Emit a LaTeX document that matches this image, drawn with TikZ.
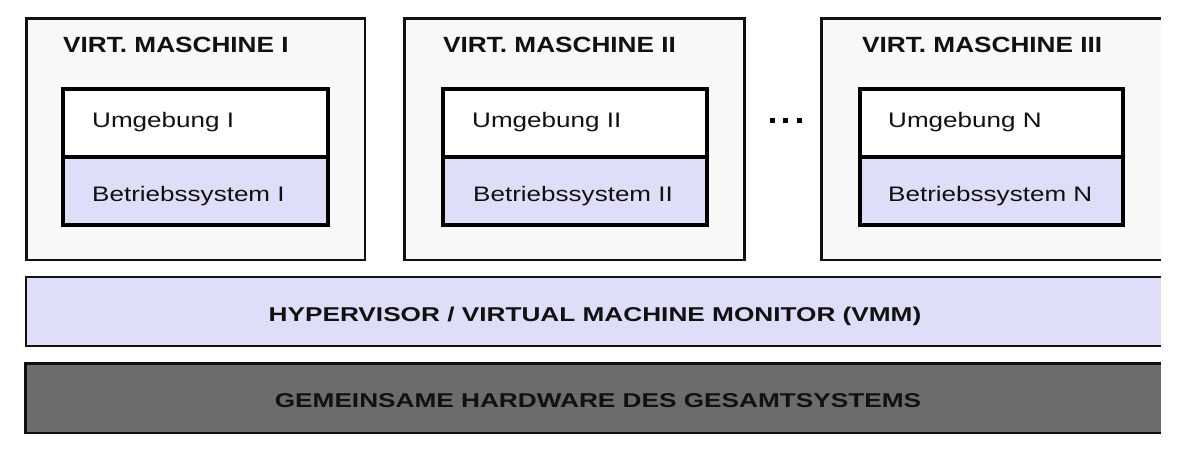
\documentclass[tikz,border=0pt]{standalone}
\usepackage{fontspec}
\setmainfont{Liberation Sans}
\newfontfamily\titlef[FakeStretch=1.19]{Liberation Sans}
\newfontfamily\bodyf[FakeStretch=1.24]{Liberation Sans}
\newfontfamily\barf[FakeStretch=1.31]{Liberation Sans}
\definecolor{lav}{RGB}{222,222,248}
\definecolor{vmfill}{RGB}{248,248,248}
\definecolor{hwfill}{RGB}{108,108,108}
\definecolor{ink}{RGB}{17,17,17}
\tikzset{
  vmbox/.style={draw=ink, line width=2.6pt, fill=vmfill},
  envbox/.style={draw=black, line width=4pt, fill=white},
  osbox/.style={draw=black, line width=4pt, fill=lav},
  hvbar/.style={draw=ink, line width=2pt, fill=lav},
  hwbar/.style={draw=ink, line width=2.6pt, fill=hwfill},
  vmtitle/.style={anchor=base west, inner sep=0pt, text=ink, font=\titlef\bfseries\fontsize{22}{26}\selectfont},
  layertext/.style={anchor=base west, inner sep=0pt, text=ink, font=\bodyf\fontsize{21}{25}\selectfont},
  bartext/.style={anchor=base, inner sep=0pt, text=ink, font=\barf\bfseries\fontsize{20}{24}\selectfont},
  dotbox/.style={rectangle, fill=black, draw=none, inner sep=0pt, minimum size=4.5pt},
}
\begin{document}
\begin{tikzpicture}[x=1pt,y=-1pt]
\useasboundingbox (0,0) rectangle (1178,464);
% ---------- VM 1 ----------
\draw[vmbox] (26.3,18.7) rectangle (365,260);
\draw[envbox] (63,89) rectangle (327.5,156.7);
\draw[osbox] (63,156.7) rectangle (327.5,225.3);
\node[vmtitle] (vm1) at (63,52.5) {VIRT. MASCHINE I};
\node[layertext] (env1) at (92,127.5) {Umgebung I};
\node[layertext] (os1) at (92,201.5) {Betriebssystem I};
% ---------- VM 2 ----------
\draw[vmbox] (404.7,18.7) rectangle (744.5,260);
\draw[envbox] (442.5,89) rectangle (706.7,156.7);
\draw[osbox] (442.5,156.7) rectangle (706.7,225.3);
\node[vmtitle] (vm2) at (443,52.5) {VIRT. MASCHINE II};
\node[layertext] (env2) at (472,127.5) {Umgebung II};
\node[layertext] (os2) at (473,201.5) {Betriebssystem II};
% ---------- dots ----------
\node[dotbox] (dot1) at (772.5,120.5) {};
\node[dotbox] (dot2) at (785.5,120.5) {};
\node[dotbox] (dot3) at (799.5,120.5) {};
% ---------- VM 3 (clipped at right) ----------
\fill[vmfill] (821.3,18.7) rectangle (1161,260);
\draw[draw=ink, line width=2.6pt] (1161,18.7) -- (821.3,18.7) -- (821.3,260) -- (1161,260);
\draw[envbox] (859.5,89) rectangle (1123.3,156.7);
\draw[osbox] (859.5,156.7) rectangle (1123.3,225.3);
\node[vmtitle] (vm3) at (862,52.5) {VIRT. MASCHINE III};
\node[layertext] (env3) at (888,127.5) {Umgebung N};
\node[layertext] (os3) at (888,201.5) {Betriebssystem N};
% ---------- Hypervisor bar ----------
\fill[lav] (26,277) rectangle (1161,346);
\draw[draw=ink, line width=2pt] (1161,277) -- (26,277) -- (26,346) -- (1161,346);
\node[bartext] (hv) at (595,321) {HYPERVISOR / VIRTUAL MACHINE MONITOR (VMM)};
% ---------- Hardware bar ----------
\fill[hwfill] (25.5,363.5) rectangle (1161,433);
\draw[draw=ink, line width=2.6pt] (1161,363.5) -- (25.5,363.5) -- (25.5,433) -- (1161,433);
\node[bartext] (hw) at (598,407) {GEMEINSAME HARDWARE DES GESAMTSYSTEMS};
\end{tikzpicture}
\end{document}
